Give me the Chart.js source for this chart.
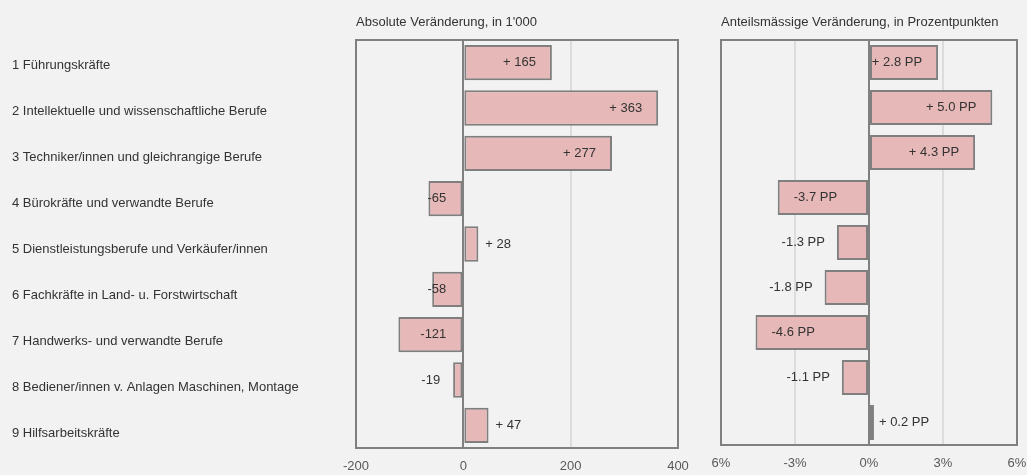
<!DOCTYPE html>
<html>
<head>
<meta charset="utf-8">
<script src="https://cdn.jsdelivr.net/npm/chart.js@4.4.1/dist/chart.umd.min.js"></script>
<style>
  html, body { margin: 0; padding: 0; background: #f2f2f2; }
  #wrap { position: relative; width: 1027px; height: 475px; overflow: hidden; background: #f2f2f2; }
  #absChart { position: absolute; left: 0; top: 0; }
  #shareChart { position: absolute; left: 690px; top: 0; }
</style>
</head>
<body>
<div id="wrap">
  <canvas id="absChart" width="690" height="475"></canvas>
  <canvas id="shareChart" width="337" height="475"></canvas>
</div>
<script>
// Occupational groups (ISCO major groups)
const categories = [
  '1 Führungskräfte',
  '2 Intellektuelle und wissenschaftliche Berufe',
  '3 Techniker/innen und gleichrangige Berufe',
  '4 Bürokräfte und verwandte Berufe',
  '5 Dienstleistungsberufe und Verkäufer/innen',
  '6 Fachkräfte in Land- u. Forstwirtschaft',
  '7 Handwerks- und verwandte Berufe',
  '8 Bediener/innen v. Anlagen Maschinen, Montage',
  '9 Hilfsarbeitskräfte'
];
// Absolute change, in thousands
const absoluteChange = [165, 363, 277, -65, 28, -58, -121, -19, 47];
// Change of share, in percentage points
const shareChange = [2.8, 5.0, 4.3, -3.7, -1.3, -1.8, -4.6, -1.1, 0.2];

const absTicks = [-200, 0, 200, 400];
const absTickLabels = ['-200', '0', '200', '400'];
const shareTicks = [-6, -3, 0, 3, 6];
const shareTickLabels = ['6%', '-3%', '0%', '3%', '6%'];

const absTitle = "Absolute Veränderung, in 1'000";
const shareTitle = 'Anteilsmässige Veränderung, in Prozentpunkten';

const FONT = "'Liberation Sans', Arial, sans-serif";
const FONT_SIZE = 13;
const BAR_FILL = '#e6b8b7';
const BAR_EDGE = '#7f7f7f';
const FRAME = '#808080';
const GRID = '#dcdcdc';
const TEXT = '#333333';
const TICK_TEXT = '#595959';

Chart.defaults.font.family = FONT;
Chart.defaults.font.size = FONT_SIZE;
Chart.defaults.color = TEXT;

// Frame around the plot area
const framePlugin = {
  id: 'frame',
  afterDatasetsDraw(chart) {
    const { ctx, chartArea: a } = chart;
    ctx.save();
    ctx.strokeStyle = FRAME;
    ctx.lineWidth = 2;
    ctx.strokeRect(a.left, a.top, a.right - a.left, a.bottom - a.top);
    ctx.restore();
  }
};

// Value labels next to / inside the bars
const barLabelPlugin = {
  id: 'barLabels',
  afterDatasetsDraw(chart, args, opts) {
    const { ctx } = chart;
    const meta = chart.getDatasetMeta(0);
    const data = chart.data.datasets[0].data;
    ctx.save();
    ctx.font = FONT_SIZE + 'px ' + FONT;
    ctx.fillStyle = TEXT;
    ctx.textBaseline = 'middle';
    meta.data.forEach((el, i) => {
      const v = data[i];
      const text = opts.format(v);
      const w = ctx.measureText(text).width;
      const barW = Math.abs(el.x - el.base);
      const inside = barW > w + opts.fit;
      const p = opts.place(el, v, inside);
      ctx.textAlign = p.align;
      ctx.fillText(text, p.x, el.y);
    });
    ctx.restore();
  }
};

function gridColor(c) { return c.tick && c.tick.value === 0 ? FRAME : GRID; }

function noSidePadding(s) { s.paddingLeft = 0; s.paddingRight = 0; }

function baseOptions(cfg) {
  return {
    indexAxis: 'y',
    responsive: false,
    devicePixelRatio: 1,
    animation: false,
    events: [],
    layout: { padding: cfg.padding },
    plugins: {
      legend: { display: false },
      tooltip: { enabled: false },
      barLabels: cfg.labels
    },
    scales: Object.assign({
      x: {
        type: 'linear',
        position: 'bottom',
        min: cfg.min,
        max: cfg.max,
        afterBuildTicks: s => { s.ticks = cfg.ticks.map(v => ({ value: v })); },
        afterFit: s => { s.height = cfg.bottomHeight; noSidePadding(s); },
        ticks: {
          color: TICK_TEXT,
          padding: 11,
          maxRotation: 0,
          autoSkip: false,
          callback: (v, i) => cfg.tickLabels[i]
        },
        grid: { color: gridColor, lineWidth: 2, drawTicks: false },
        border: { display: false }
      },
      xt: {
        type: 'linear',
        position: 'top',
        display: true,
        afterFit: s => { s.height = 40; noSidePadding(s); },
        ticks: { display: false },
        grid: { display: false },
        border: { display: false },
        title: {
          display: true,
          text: cfg.title,
          align: 'start',
          color: TEXT,
          padding: { top: 15, bottom: 0 }
        }
      },
      y: {
        type: 'category',
        display: false,
        offset: true
      }
    }, cfg.extraScales || {})
  };
}

function dataset(values) {
  return {
    data: values,
    backgroundColor: BAR_FILL,
    borderColor: BAR_EDGE,
    borderWidth: 2,
    borderSkipped: false,
    categoryPercentage: 1,
    barPercentage: 0.78
  };
}

// Category labels on the left, spaced evenly down the page
const LABEL_FIRST = 65, LABEL_STEP = 46, AREA_TOP = 40, AREA_H = 408;
const labelRange = AREA_H / LABEL_STEP;
const labelMin = -(LABEL_FIRST - AREA_TOP) / LABEL_STEP;
const labelMax = labelMin + labelRange;

new Chart(document.getElementById('absChart'), {
  type: 'bar',
  data: { labels: categories, datasets: [dataset(absoluteChange)] },
  options: baseOptions({
    padding: { left: 12, right: 12, top: 0, bottom: 0 },
    min: -200, max: 400,
    ticks: absTicks, tickLabels: absTickLabels,
    bottomHeight: 27,
    title: absTitle,
    labels: {
      fit: 8,
      format: v => (v > 0 ? '+ ' + v : String(v)),
      place: (el, v, inside) => {
        if (v >= 0) return inside ? { x: el.x - 16, align: 'right' } : { x: el.x + 7, align: 'left' };
        return inside ? { x: el.base - 16, align: 'right' } : { x: el.x - 13, align: 'right' };
      }
    },
    extraScales: {
      yl: {
        type: 'linear',
        position: 'left',
        reverse: true,
        offset: false,
        min: labelMin,
        max: labelMax,
        afterBuildTicks: s => {
          s.ticks = categories.map((c, i) => ({ value: i }));
          s.min = labelMin;
          s.max = labelMax;
        },
        afterFit: s => { s.width = 344; },
        ticks: {
          crossAlign: 'far',
          autoSkip: false,
          color: TEXT,
          padding: 0,
          callback: v => categories[v]
        },
        grid: { display: false, offset: false },
        border: { display: false }
      }
    }
  }),
  plugins: [framePlugin, barLabelPlugin]
});

new Chart(document.getElementById('shareChart'), {
  type: 'bar',
  data: { labels: categories, datasets: [dataset(shareChange)] },
  options: baseOptions({
    padding: { left: 31, right: 10, top: 0, bottom: 0 },
    min: -6, max: 6,
    ticks: shareTicks, tickLabels: shareTickLabels,
    bottomHeight: 30,
    title: shareTitle,
    labels: {
      fit: 12,
      format: v => (v > 0 ? '+ ' : '') + v.toFixed(1) + ' PP',
      place: (el, v, inside) => {
        if (v >= 0) return inside ? { x: el.x - 16, align: 'right' } : { x: el.x + 5, align: 'left' };
        return inside ? { x: el.x + 16, align: 'left' } : { x: el.x - 12, align: 'right' };
      }
    }
  }),
  plugins: [framePlugin, barLabelPlugin]
});
</script>
</body>
</html>
